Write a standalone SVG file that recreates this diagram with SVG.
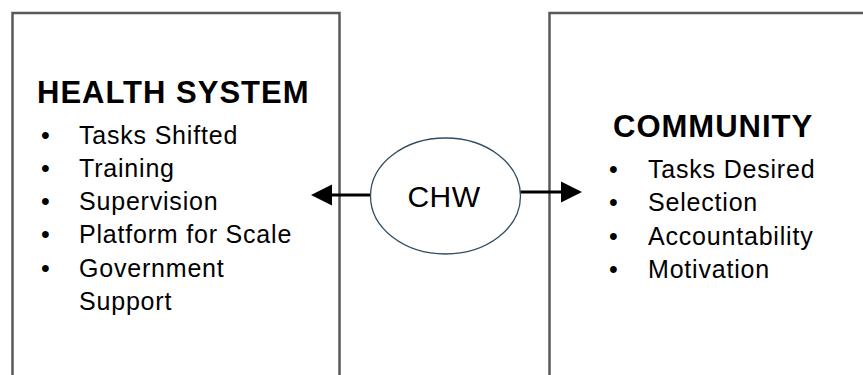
<svg xmlns="http://www.w3.org/2000/svg" width="863" height="375" viewBox="0 0 863 375">
<style>
.box{fill:#fff;stroke:#595959;stroke-width:2.5}
.title{font-family:"Liberation Sans",Arial,sans-serif;font-weight:bold;font-size:31px;letter-spacing:1px;fill:#000}
.item{font-family:"Liberation Sans",Arial,sans-serif;font-size:25px;letter-spacing:0.8px;fill:#000}
.conn{stroke:#000;stroke-width:3;fill:none}
.head{fill:#000}
</style>
<rect width="863" height="375" fill="#fff"/>
<g id="health-system">
<rect class="box" x="12.5" y="13" width="327" height="400"/>
<text class="title" x="37" y="103">HEALTH SYSTEM</text>
<g class="item">
<text x="41" y="144">•</text><text x="79" y="144">Tasks Shifted</text>
<text x="41" y="177">•</text><text x="79" y="177">Training</text>
<text x="41" y="210">•</text><text x="79" y="210">Supervision</text>
<text x="41" y="243">•</text><text x="79" y="243">Platform for Scale</text>
<text x="41" y="277">•</text><text x="79" y="277">Government</text>
<text x="79" y="310">Support</text>
</g>
</g>
<g id="community">
<rect class="box" x="549.5" y="13" width="340" height="400"/>
<text class="title" x="613" y="137">COMMUNITY</text>
<g class="item">
<text x="609" y="178">•</text><text x="648" y="178">Tasks Desired</text>
<text x="609" y="211">•</text><text x="648" y="211">Selection</text>
<text x="609" y="245">•</text><text x="648" y="245">Accountability</text>
<text x="609" y="278">•</text><text x="648" y="278">Motivation</text>
</g>
</g>
<g id="connectors">
<line class="conn" x1="370" y1="195" x2="328" y2="195"/>
<polygon class="head" points="311,195 332,184.5 332,205.5"/>
<line class="conn" x1="520" y1="192" x2="564" y2="192"/>
<polygon class="head" points="582,192 561,181.5 561,202.5"/>
</g>
<g id="chw">
<ellipse cx="445.5" cy="196" rx="75" ry="58" fill="#fff" stroke="#2f4d63" stroke-width="1.3"/>
<text x="444" y="207" text-anchor="middle" font-family="'Liberation Sans',Arial,sans-serif" font-size="30" letter-spacing="0.5">CHW</text>
</g>
</svg>
